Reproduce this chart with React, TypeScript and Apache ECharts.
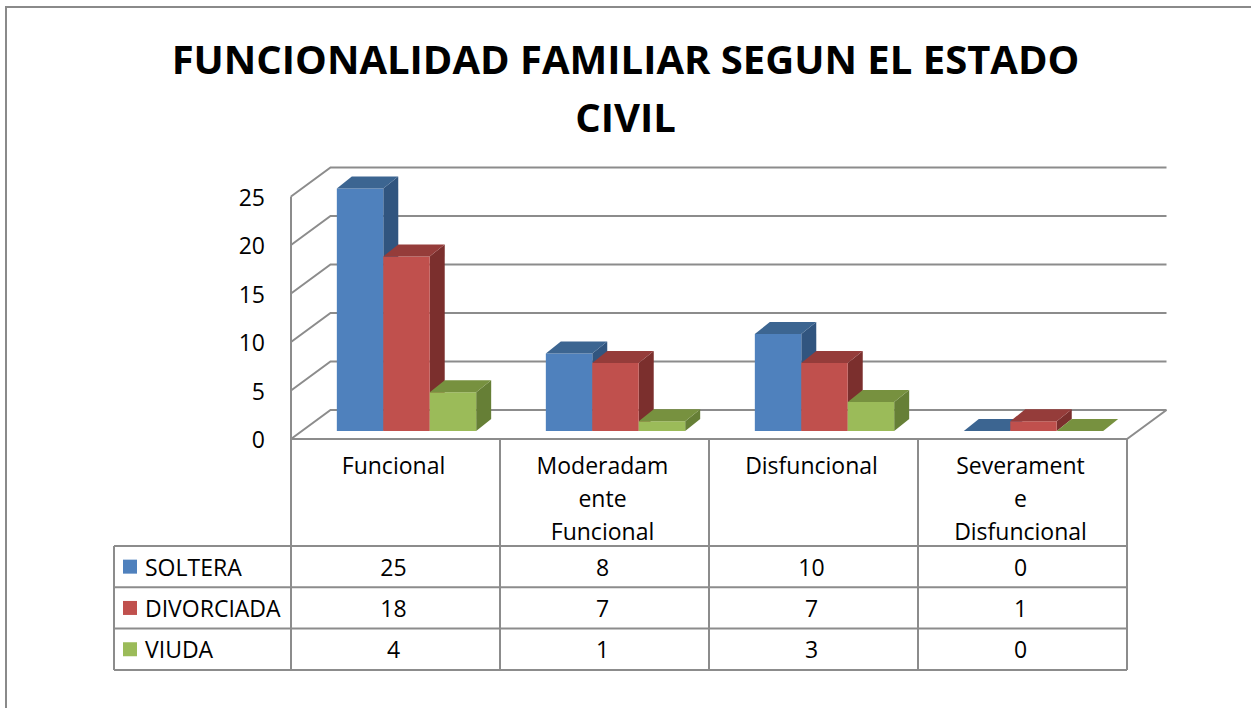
import React, { useEffect, useRef } from "react";
import * as echarts from "echarts";

const titleText = "FUNCIONALIDAD FAMILIAR SEGUN EL ESTADO\nCIVIL";
const categories = ["Funcional", "Moderadam\nente\nFuncional", "Disfuncional", "Severament\ne\nDisfuncional"];
const seriesNames = ["SOLTERA", "DIVORCIADA", "VIUDA"];
const soltera = [25, 8, 10, 0];
const divorciada = [18, 7, 7, 1];
const viuda = [4, 1, 3, 0];
const yTicks = [0, 5, 10, 15, 20, 25];

const seriesValues = [soltera, divorciada, viuda];

const FONT = '"Open Sans", "Noto Sans", sans-serif';
const FS = 23;
const faceColors = ["#4F81BD", "#C0504D", "#9BBB59"];
const topColors = ["#3C6591", "#953C3A", "#77913F"];
const sideColors = ["#31557F", "#7B2F2D", "#667F36"];
const WALL = [39.5, -29];
const BAR_SHIFT = [11, -8];
const BAR_DEPTH = [15, -12];
const LINE = "#8C8C8C";
const HEADER_H = 107;
const ROW_H = 41.3;
const LEGEND_W = 177;

const lineEl = (x1: number, y1: number, x2: number, y2: number) => ({
  type: "line",
  shape: { x1, y1, x2, y2 },
  style: { stroke: LINE, lineWidth: 2 },
});

const makeBarSeries = (s: number, values: number[]) => ({
  type: "custom",
  name: seriesNames[s],
  data: values.map((v, i) => [i, v]),
  encode: { x: 0, y: 1 },
  z: 3,
  renderItem: (params: any, api: any) => {
    const i = params.dataIndex;
    const v = values[i];
    const band = api.size([1, 0])[0];
    const bw = band / 4.5;
    const top = api.coord([i, v]);
    const base = api.coord([i, 0]);
    const x = top[0] - 1.5 * bw + s * bw + BAR_SHIFT[0];
    const yT = top[1] + BAR_SHIFT[1];
    const yB = base[1] + BAR_SHIFT[1];
    const dx = BAR_DEPTH[0];
    const dy = BAR_DEPTH[1];
    return {
      type: "group",
      children: [
        {
          type: "polygon",
          shape: { points: [[x + bw, yT], [x + bw + dx, yT + dy], [x + bw + dx, yB + dy], [x + bw, yB]] },
          style: { fill: sideColors[s] },
        },
        {
          type: "rect",
          shape: { x, y: yT, width: bw, height: yB - yT },
          style: { fill: faceColors[s] },
        },
        {
          type: "polygon",
          shape: { points: [[x, yT], [x + bw, yT], [x + bw + dx, yT + dy], [x + dx, yT + dy]] },
          style: { fill: topColors[s] },
        },
      ],
    };
  },
});

export default function App() {
  const ref = useRef<HTMLDivElement>(null);
  useEffect(() => {
    if (!ref.current) return;
    const chart = echarts.init(ref.current, null, { renderer: "svg" });
    const n = categories.length;
    const option: any = {
      animation: false,
      backgroundColor: "#fff",
      title: {
        text: titleText,
        left: "center",
        top: 29,
        padding: 0,
        textStyle: { fontFamily: FONT, fontWeight: "bold", fontSize: 40, lineHeight: 58, color: "#000" },
      },
      graphic: [
        {
          type: "rect",
          shape: { x: 6, y: 7, width: 1300, height: 800 },
          style: { fill: null, stroke: "#8A8A8A", lineWidth: 2 },
          silent: true,
        },
      ],
      grid: { left: 291, top: 196.5, width: 836, height: 242.5 },
      xAxis: {
        type: "category",
        data: categories,
        axisLine: { show: false },
        axisTick: { show: false },
        axisLabel: { show: false },
        splitLine: { show: false },
      },
      yAxis: {
        type: "value",
        min: 0,
        max: 25,
        interval: 5,
        axisLine: { show: false },
        axisTick: { show: false },
        splitLine: { show: false },
        axisLabel: { fontFamily: FONT, fontSize: FS, color: "#000", margin: 26 },
      },
      series: [
        {
          type: "custom",
          name: "walls",
          z: 1,
          data: yTicks.map((t) => [0, t]),
          encode: { x: 0, y: 1 },
          renderItem: (params: any, api: any) => {
            const v = yTicks[params.dataIndex];
            const band = api.size([1, 0])[0];
            const pL = api.coord([0, v]);
            const pR = api.coord([n - 1, v]);
            const xl = pL[0] - band / 2;
            const xr = pR[0] + band / 2;
            const y = pL[1];
            const children: any[] = [
              {
                type: "polyline",
                shape: { points: [[xl, y], [xl + WALL[0], y + WALL[1]], [xr + WALL[0], y + WALL[1]]] },
                style: { stroke: LINE, lineWidth: 2, fill: null },
              },
            ];
            if (v === 0) {
              const yTop = api.coord([0, yTicks[yTicks.length - 1]])[1];
              children.push({
                type: "polyline",
                shape: { points: [[xl, yTop], [xl, y], [xr, y], [xr + WALL[0], y + WALL[1]]] },
                style: { stroke: LINE, lineWidth: 2, fill: null },
              });
            }
            return { type: "group", children };
          },
        },
        makeBarSeries(0, soltera),
        makeBarSeries(1, divorciada),
        makeBarSeries(2, viuda),
        {
          type: "custom",
          name: "table",
          z: 4,
          data: categories.map((_, i) => [i, 0]),
          encode: { x: 0, y: 1 },
          renderItem: (params: any, api: any) => {
            const i = params.dataIndex;
            const band = api.size([1, 0])[0];
            const c = api.coord([i, 0]);
            const x0 = c[0] - band / 2;
            const x1 = c[0] + band / 2;
            const y0 = c[1];
            const yH = y0 + HEADER_H;
            const yEnd = yH + ROW_H * seriesNames.length;
            const xs = i === 0 ? x0 - LEGEND_W : x0;
            const children: any[] = [lineEl(x0, y0, x0, yEnd)];
            if (i === n - 1) children.push(lineEl(x1, y0, x1, yEnd));
            for (let r = 0; r <= seriesNames.length; r++) {
              children.push(lineEl(xs, yH + r * ROW_H, x1, yH + r * ROW_H));
            }
            children.push({
              type: "text",
              x: c[0] - 2,
              y: y0 + 9,
              style: {
                text: categories[i],
                fontFamily: FONT,
                fontSize: FS,
                lineHeight: 33,
                fill: "#000",
                align: "center",
                verticalAlign: "top",
              },
            });
            for (let r = 0; r < seriesNames.length; r++) {
              const ym = yH + r * ROW_H + ROW_H / 2;
              children.push({
                type: "text",
                x: c[0] - 2,
                y: ym,
                style: {
                  text: String(seriesValues[r][i]),
                  fontFamily: FONT,
                  fontSize: FS,
                  fill: "#000",
                  align: "center",
                  verticalAlign: "middle",
                },
              });
              if (i === 0) {
                children.push({
                  type: "rect",
                  shape: { x: xs + 9, y: ym - 7, width: 14, height: 14 },
                  style: { fill: faceColors[r] },
                });
                children.push({
                  type: "text",
                  x: xs + 31,
                  y: ym,
                  style: {
                    text: seriesNames[r],
                    fontFamily: FONT,
                    fontSize: FS,
                    fill: "#000",
                    align: "left",
                    verticalAlign: "middle",
                  },
                });
              }
            }
            if (i === 0) children.push(lineEl(xs, yH, xs, yEnd));
            return { type: "group", children };
          },
        },
      ],
    };
    chart.setOption(option);
    return () => chart.dispose();
  }, []);
  return (
    <div
      ref={ref}
      style={{ position: "absolute", left: 0, top: 0, width: 1251, height: 708 }}
    />
  );
}
